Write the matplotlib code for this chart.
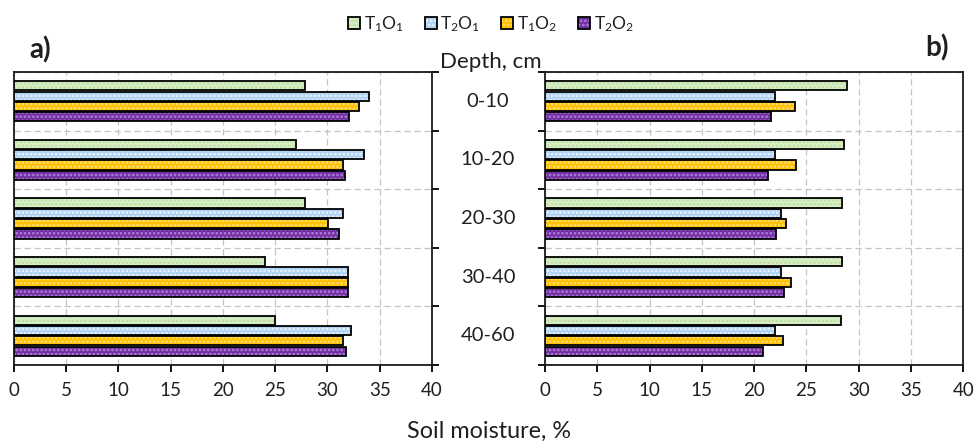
import numpy as np
import matplotlib.pyplot as plt
from matplotlib.patches import Patch
from matplotlib.legend_handler import HandlerTuple
import matplotlib.transforms as mtransforms

plt.rcParams['font.family'] = ['Lato', 'DejaVu Sans']
plt.rcParams['mathtext.fontset'] = 'custom'
plt.rcParams['mathtext.rm'] = 'Lato'
plt.rcParams['mathtext.default'] = 'regular'
plt.rcParams['hatch.linewidth'] = 1.3

depths = ['0-10', '10-20', '20-30', '30-40', '40-60']
series = ['T$_1$O$_1$', 'T$_2$O$_1$', 'T$_1$O$_2$', 'T$_2$O$_2$']

# panel a)
a_t1o1 = [27.9, 27.0, 27.9, 24.0, 25.0]
a_t2o1 = [34.0, 33.5, 31.5, 32.0, 32.3]
a_t1o2 = [33.0, 31.5, 30.1, 32.0, 31.5]
a_t2o2 = [32.1, 31.7, 31.1, 32.0, 31.8]

# panel b)
b_t1o1 = [28.9, 28.6, 28.4, 28.4, 28.3]
b_t2o1 = [22.0, 22.0, 22.6, 22.6, 22.0]
b_t1o2 = [23.9, 24.0, 23.0, 23.5, 22.8]
b_t2o2 = [21.6, 21.3, 22.1, 22.9, 20.8]

faces = ['#d7eec5', '#b0d2f3', '#ffc000', '#7030a0']
dots = ['#bcdfa3', '#eaf4ff', '#ffe07a', '#b57ee0']
txt = '#1f1f1f'

fig = plt.figure(figsize=(9.76, 4.41), dpi=100)
ax_a = fig.add_axes([13.7/976, 1-365/441, (432-13.7)/976, (365-72)/441])
ax_b = fig.add_axes([545/976, 1-365/441, (963.3-545)/976, (365-72)/441])

step = 0.176
h = 0.158
ypos = np.arange(len(depths)) + 0.5

for ax, data in [(ax_a, [a_t1o1, a_t2o1, a_t1o2, a_t2o2]),
                 (ax_b, [b_t1o1, b_t2o1, b_t1o2, b_t2o2])]:
    for j, vals in enumerate(data):
        yy = ypos + (j-1.5)*step
        ax.barh(yy, vals, height=h, color=faces[j], edgecolor=dots[j],
                hatch='....', linewidth=0, zorder=3)
        ax.barh(yy, vals, height=h, fill=False, edgecolor='black',
                linewidth=1.3, zorder=4)
    ax.set_xlim(0, 40)
    ax.set_ylim(5, 0)
    ax.set_xticks(np.arange(0, 41, 5))
    ax.set_yticks(np.arange(0, 6))
    ax.grid(True, color='#c4c4c4', linestyle=(0, (5, 3)), linewidth=0.9, zorder=0)
    ax.set_axisbelow(True)
    for s in ax.spines.values():
        s.set_linewidth(1.3)
        s.set_color('#1a1a1a')
    ax.tick_params(axis='x', direction='out', length=5, width=1.3,
                   labelsize=13.5, labelcolor=txt, pad=7)
    ax.tick_params(axis='y', direction='out', length=5, width=1.3,
                   labelleft=False, labelright=False)

ax_a.yaxis.tick_right()
ax_a.tick_params(axis='y', labelright=False)

# depth labels between panels
tr = mtransforms.blended_transform_factory(fig.transFigure, ax_a.transData)
for yc, d in zip(ypos, depths):
    fig.text(488/976, yc, d, transform=tr, ha='center', va='center',
             fontsize=14.5, color=txt)

fig.text(491/976, 1-62/441, 'Depth, cm', ha='center', va='center',
         fontsize=16, color=txt)
fig.text(489/976, 1-431/441, 'Soil moisture, %', ha='center', va='center',
         fontsize=16.8, color=txt)
fig.text(40/976, 1-50/441, 'a)', ha='center', va='center',
         fontsize=20, fontweight='bold', color=txt)
fig.text(937/976, 1-48/441, 'b)', ha='center', va='center',
         fontsize=20, fontweight='bold', color=txt)

handles = []
for j in range(4):
    p1 = Patch(facecolor=faces[j], edgecolor=dots[j], hatch='....', linewidth=0)
    p2 = Patch(fill=False, edgecolor='black', linewidth=1.3)
    handles.append((p1, p2))
fig.legend(handles, series, loc='center', bbox_to_anchor=(491/976, 1-24/441),
           ncol=4, frameon=False, fontsize=12.5, handlelength=0.7,
           handleheight=0.7, handletextpad=0.2, columnspacing=1.2,
           handler_map={tuple: HandlerTuple(ndivide=1, pad=0)},
           labelcolor=txt)

fig.savefig('out.png', dpi=100)
